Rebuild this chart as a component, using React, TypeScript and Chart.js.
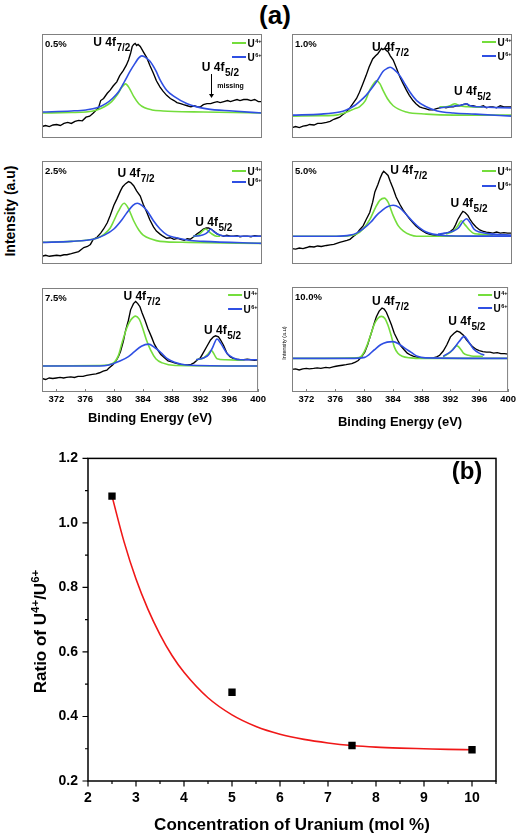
import React, { useEffect, useRef } from 'react';
import { Chart, registerables } from 'chart.js';

Chart.register(...registerables);

type Pt = [number, number];

const FONT = '"Liberation Sans", Arial, Helvetica, sans-serif';
const GREEN = '#74dd3c';
const BLUE = '#2f4fe3';
const FRAME = '#808080';

// ---------- panel (a): binding-energy axis ticks ----------
const energyTicks = [372, 376, 380, 384, 388, 392, 396, 400];

// ---------- 0.5 % ----------
const exp05: Pt[] = [
  [370, 11], [370.5, 12], [371, 11], [371.5, 12.5], [372, 13], [372.5, 12], [373, 14], [373.5, 15], [374, 14],
  [374.5, 16], [375, 17], [375.5, 16.5], [376, 20], [376.5, 21], [377, 24], [377.4, 27], [377.7, 29], [378, 36],
  [378.4, 38], [378.9, 43], [379.3, 46], [379.7, 50], [380.2, 54], [380.6, 60], [381.1, 65], [381.5, 70],
  [381.8, 75], [382.1, 82], [382.3, 88], [382.5, 90], [382.7, 91], [382.9, 89], [383.1, 90], [383.4, 88],
  [383.8, 83], [384.3, 77], [384.7, 70], [385.2, 62], [385.6, 55], [386.1, 49], [386.5, 45], [387, 41],
  [387.5, 38], [388, 36], [388.4, 34], [388.9, 33], [389.3, 32], [389.8, 31], [390.3, 30], [390.8, 31],
  [391.2, 30], [391.6, 30], [392, 32], [392.5, 33], [393, 33], [393.4, 34], [393.9, 35], [394.3, 34],
  [394.8, 35], [395.3, 36], [395.7, 35], [396.1, 36], [396.6, 37], [397, 36], [397.5, 37], [398, 37],
  [398.5, 36], [399, 37], [399.5, 35], [400, 35],
];
const u4_05_72: Pt[] = [
  [370, 24], [374, 24.5], [376, 25], [377.5, 27], [378.5, 30], [379.5, 35], [380.3, 42], [380.9, 49], [381.4, 52],
  [381.9, 48], [382.5, 40], [383.2, 33], [384, 29], [385, 27], [386.5, 26], [388, 25.5], [392, 25], [400, 24],
];
const u4_05_52: Pt[] = [];
const u6_05_72: Pt[] = [
  [370, 25], [374, 26], [376, 27], [377.5, 29], [378.7, 33], [379.6, 38], [380.5, 45], [381.3, 55], [382, 64],
  [382.7, 72], [383.2, 77], [383.6, 79], [384, 78], [384.7, 74], [385.5, 65], [386.1, 56], [387, 46], [388, 40],
  [389.8, 33], [392.5, 28], [396, 26], [400, 24],
];
const u6_05_52: Pt[] = [];

// ---------- 1.0 % ----------
const exp10: Pt[] = [
  [370, 10], [370.5, 11], [371, 10], [371.5, 11.5], [372, 12], [372.4, 13], [373, 12.5], [373.5, 14], [374, 14],
  [374.7, 15], [375.2, 16], [375.7, 18], [376.1, 19], [376.5, 20], [377, 23], [377.4, 25], [377.9, 29],
  [378.3, 33], [378.8, 38], [379.2, 44], [379.6, 51], [380.1, 60], [380.5, 68], [381, 76], [381.4, 79],
  [381.7, 81], [382, 84], [382.2, 86], [382.4, 85], [382.6, 86], [382.9, 84], [383.1, 83], [383.4, 79],
  [383.8, 75], [384.2, 68], [384.7, 59], [385.1, 53], [385.6, 46], [386, 41], [386.5, 36], [386.9, 33],
  [387.4, 30], [387.8, 29], [388.3, 28], [388.7, 27], [389.2, 27], [389.6, 28], [390.1, 29], [390.5, 30],
  [391, 29], [391.5, 30], [392, 30], [392.4, 31], [392.9, 31], [393.3, 32], [393.8, 33], [394.2, 31],
  [394.7, 31], [395.2, 30], [395.6, 30], [396.1, 31], [396.5, 29], [397, 30], [397.4, 30], [397.9, 29],
  [398.4, 31], [398.9, 30], [399.4, 30], [400, 30],
];
const u4_10_72: Pt[] = [
  [370, 21], [374, 21.5], [376, 22], [377.5, 25], [378.5, 28], [379.2, 30], [380, 36], [380.6, 46], [381.1, 52],
  [381.5, 55], [382, 52], [382.4, 46], [383, 38], [383.8, 31], [385.6, 25], [388.3, 23], [392, 22], [400, 22],
];
const u4_10_52: Pt[] = [
  [390.1, 30], [391, 30], [391.7, 31.5], [392.2, 33], [392.8, 31], [394, 30], [396, 29.5],
];
const u6_10_72: Pt[] = [
  [370, 22], [374, 23], [376.5, 25], [377.4, 27], [378.5, 31], [379.2, 35], [380.1, 41], [381, 49], [381.7, 56],
  [382.4, 64], [383, 67], [383.4, 68], [383.9, 66], [384.7, 60], [385.3, 53], [386.1, 44], [387, 36],
  [388.3, 30], [389.8, 26], [392, 24], [395, 23], [400, 21],
];
const u6_10_52: Pt[] = [
  [390.1, 29], [391.5, 30], [392.5, 31], [393.3, 32], [393.8, 33], [394.3, 31], [395.5, 30], [400, 29],
];

// ---------- 2.5 % ----------
const exp25: Pt[] = [
  [370, 7.5], [370.5, 8.5], [371, 7.5], [371.5, 8], [372, 8.5], [372.5, 8], [373, 9], [373.4, 9], [374, 10],
  [374.5, 11], [375, 12], [375.7, 16], [376.2, 17], [376.6, 19], [377, 24], [377.5, 26], [378, 30], [378.4, 34],
  [378.9, 40], [379.3, 47], [379.8, 57], [380.2, 63], [380.7, 71], [381, 75], [381.4, 78], [381.8, 80],
  [382.1, 79], [382.5, 76], [382.9, 71], [383.4, 66], [383.8, 58], [384.3, 50], [384.7, 43], [385.2, 36],
  [385.6, 32], [386.1, 29], [386.5, 27], [387, 25], [387.5, 25.5], [388, 24], [388.5, 25], [388.9, 24],
  [389.4, 23], [389.8, 24.5], [390.2, 24], [390.6, 26], [391.1, 29], [391.5, 31], [392, 34], [392.4, 35],
  [392.7, 35], [393, 34], [393.4, 32], [393.9, 29], [394.3, 28], [394.8, 27], [395.2, 28], [395.7, 27],
  [396.1, 27], [396.6, 27.5], [397, 26.5], [397.5, 27], [398, 27], [398.5, 26.5], [399, 27.5], [399.5, 27],
  [400, 27],
];
const u4_25_72: Pt[] = [
  [370, 21], [374, 22], [376, 23], [377.5, 25], [378.5, 29], [379.3, 35], [379.8, 42], [380.4, 51], [381.2, 59],
  [381.7, 55], [382.5, 42], [383.2, 33], [383.8, 28], [385, 24], [386.1, 22], [390, 21], [400, 20],
];
const u4_25_52: Pt[] = [
  [390.6, 26.5], [391.4, 28.5], [392.3, 34], [393, 30], [393.8, 27], [394.3, 27],
];
const u6_25_72: Pt[] = [
  [370, 21], [374, 22], [377, 24], [378.5, 28], [379.8, 34], [380.9, 43], [381.6, 50], [382.4, 57], [383, 59],
  [383.6, 57], [384.3, 52], [385.2, 42], [386.1, 34], [387.1, 28], [388.3, 25.5], [390, 23], [392, 22], [400, 20],
];
const u6_25_52: Pt[] = [
  [390.6, 27], [391.5, 27.5], [392.2, 29], [392.6, 31], [393, 34], [393.5, 31], [394.3, 28], [395.5, 27], [400, 27],
];

// ---------- 5.0 % ----------
const exp50: Pt[] = [
  [370, 15], [370.5, 14.5], [371, 15.5], [371.5, 15], [372, 16], [372.4, 17], [373, 16.5], [373.5, 17.5],
  [374, 17], [374.7, 18], [375.2, 18.5], [375.7, 19], [376.1, 20], [376.5, 21], [377, 22], [377.5, 23],
  [377.9, 24], [378.4, 27], [378.8, 29], [379.2, 33], [379.7, 37], [380.1, 43], [380.6, 50], [381, 60],
  [381.3, 70], [381.7, 77], [382, 83], [382.3, 88], [382.5, 90], [382.8, 88], [383.1, 86], [383.4, 80],
  [383.8, 73], [384.2, 65], [384.7, 58], [385.1, 53], [385.6, 48], [386, 44], [386.5, 40], [386.9, 37],
  [387.4, 34], [387.8, 32], [388.3, 30], [388.7, 29], [389.2, 28], [389.6, 27.5], [389.9, 27], [390.3, 29],
  [390.6, 29.5], [391, 30], [391.5, 31], [392, 34], [392.3, 38], [392.6, 43], [393, 48], [393.3, 51],
  [393.6, 50], [394, 47], [394.3, 43], [394.7, 39], [395.1, 36], [395.6, 33], [396, 32], [396.5, 31],
  [397, 30.5], [397.4, 30], [397.9, 31], [398.4, 30], [398.9, 30.5], [399.4, 30], [400, 30],
];
const u4_50_72: Pt[] = [
  [370, 27], [377, 27], [378.8, 29], [379.7, 34], [380.6, 43], [381.4, 55], [382, 62], [382.6, 64], [383.1, 60],
  [383.8, 47], [384.5, 37], [385.2, 32], [386.1, 28.5], [387, 27], [400, 27],
];
const u4_50_52: Pt[] = [
  [391, 29], [392, 32], [392.6, 37], [393.1, 42], [393.6, 38], [394.2, 33], [394.7, 30], [395.5, 29], [397.4, 28],
];
const u6_50_72: Pt[] = [
  [370, 27], [376, 27], [377.9, 28], [378.8, 30], [379.7, 34], [380.8, 41], [381.5, 47], [382.3, 52], [383, 55.5],
  [383.8, 57], [384.6, 55], [385.6, 48], [386.5, 41], [387.4, 35], [388.3, 31], [389.2, 29], [391, 27.5], [400, 27],
];
const u6_50_52: Pt[] = [
  [389.9, 29], [391, 30], [392, 32], [392.7, 35], [393.3, 41], [393.8, 44], [394.3, 40], [394.8, 34],
  [395.6, 31], [397.4, 29], [400, 28],
];

// ---------- 7.5 % ----------
const exp75: Pt[] = [
  [370, 13], [370.5, 12], [371, 13.5], [371.5, 13], [372, 13.5], [372.5, 14], [373, 13.5], [373.4, 14],
  [374, 14.5], [374.5, 14], [375, 15], [375.7, 15], [376.2, 16], [376.6, 16.5], [377, 17], [377.5, 17.5],
  [378, 18.5], [378.5, 20], [379, 21], [379.3, 23], [379.8, 26], [380.2, 29], [380.6, 34], [380.9, 39],
  [381.3, 49], [381.6, 59], [382, 69], [382.3, 79], [382.7, 85], [383, 87], [383.3, 85], [383.6, 82],
  [383.9, 76], [384.3, 69], [384.7, 61], [385.2, 53], [385.6, 46], [386.1, 40], [386.5, 36], [387, 33],
  [387.5, 30], [388, 29], [388.4, 28], [388.9, 27], [389.3, 26.5], [389.8, 26], [390.2, 26], [390.7, 26.5],
  [391.1, 28], [391.6, 31], [392, 33], [392.5, 39], [392.9, 44], [393.4, 50], [393.8, 53], [394.1, 54],
  [394.5, 53], [394.8, 50], [395.2, 45], [395.7, 37], [396.1, 34], [396.6, 32], [397, 31.5], [397.5, 31],
  [398, 31], [398.5, 31.5], [399, 31], [399.5, 30.5], [400, 31],
];
const u4_75_72: Pt[] = [
  [370, 25], [378, 25.5], [379.8, 27.5], [380.6, 35], [381.1, 47], [381.8, 62], [382.3, 69], [383, 73],
  [383.5, 70], [383.9, 63], [384.5, 50], [385.1, 40], [385.8, 32], [386.7, 28], [388.5, 25.5], [400, 25],
];
const u4_75_52: Pt[] = [
  [391.4, 31], [392.5, 33], [393, 36], [393.5, 40], [394, 35], [394.3, 32], [395.5, 31], [398, 30.5],
];
const u6_75_72: Pt[] = [
  [370, 25], [378, 25], [379.3, 26], [380.9, 30], [382, 34], [382.7, 38], [383.8, 44], [384.8, 46], [385.6, 43],
  [386.5, 38], [387.4, 32], [388.4, 28.5], [390, 26], [400, 25],
];
const u6_75_52: Pt[] = [
  [391.4, 31], [392.5, 33], [393.1, 35.5], [393.7, 43], [394.3, 51], [394.8, 47], [395.7, 37], [396.5, 33],
  [397.5, 31], [400, 31],
];

// ---------- 10.0 % ----------
const exp100: Pt[] = [
  [370, 21.5], [370.5, 22], [371, 21], [371.5, 22], [372, 22.5], [372.4, 22], [373, 22.5], [373.5, 23],
  [374, 22.5], [374.7, 23.5], [375.2, 23], [375.7, 24], [376.1, 24.5], [376.5, 25], [377, 25.5], [377.5, 26],
  [377.9, 26.5], [378.3, 27], [378.8, 28.5], [379.2, 30], [379.6, 33], [380.1, 38], [380.5, 45], [381, 56],
  [381.4, 65], [381.7, 71.5], [382.1, 77], [382.5, 80], [382.8, 79], [383.1, 76], [383.4, 71], [383.8, 64],
  [384.2, 56], [384.7, 49], [385.1, 44], [385.6, 40], [386, 37], [386.5, 35], [386.9, 34], [387.4, 33],
  [387.8, 32.5], [388.3, 32], [388.7, 32], [389.2, 32], [389.6, 32.5], [390.1, 33.5], [390.5, 35], [391, 39],
  [391.5, 45], [392, 52.5], [392.5, 56], [392.9, 58], [393.3, 57], [393.8, 54], [394.2, 50], [394.7, 46],
  [395.1, 43], [395.6, 40.5], [396, 39.5], [396.5, 38.5], [397, 38], [397.5, 38], [398, 37], [398.5, 37.5],
  [399, 36.5], [399.5, 36.5], [400, 36],
];
const u4_100_72: Pt[] = [
  [370, 32], [379, 32.5], [379.6, 34], [380, 38], [380.5, 46], [381, 56], [381.4, 64], [381.9, 70], [382.4, 72],
  [382.9, 70], [383.3, 64], [383.8, 53], [384.2, 43], [384.7, 37], [385.3, 34], [386.5, 32.5], [388, 32], [400, 32],
];
const u4_100_52: Pt[] = [
  [391, 33.5], [392, 38], [392.9, 44], [393.5, 40], [393.8, 37], [394.5, 35], [395.2, 34], [396.5, 34],
];
const u6_100_72: Pt[] = [
  [370, 32], [378, 32], [380.1, 33], [381.4, 40], [382.3, 45], [383.2, 47.5], [384, 48], [384.8, 46],
  [385.6, 42], [386.5, 38], [387.4, 34], [388.5, 32.5], [400, 32],
];
const u6_100_52: Pt[] = [
  [391, 34], [392.3, 40], [393.2, 48], [393.9, 53], [394.6, 47], [395.2, 41], [396, 37], [396.7, 35],
];

// ---------- panel (b) ----------
const concentration = [2.5, 5, 7.5, 10];
const ratio = [1.083, 0.475, 0.31, 0.297];
const fitConc = [2.5, 2.75, 3, 3.25, 3.5, 3.75, 4, 4.5, 5, 5.5, 6, 6.5, 7, 7.5, 8, 8.5, 9, 9.5, 10];
const fitRatio = [1.083, 0.942, 0.826, 0.732, 0.654, 0.589, 0.537, 0.458, 0.405, 0.369, 0.345, 0.329, 0.318,
  0.31, 0.305, 0.302, 0.3, 0.298, 0.297];
const concMajor = [2, 3, 4, 5, 6, 7, 8, 9, 10];
const concMinor = [2.5, 3.5, 4.5, 5.5, 6.5, 7.5, 8.5, 9.5, 10.5];
const ratioMajor = [0.2, 0.4, 0.6, 0.8, 1.0, 1.2];
const ratioMinor = [0.3, 0.5, 0.7, 0.9, 1.1];

interface PanelCfg {
  id: string;
  label: string;
  left: number;
  top: number;
  w: number;
  h: number;
  bottomRow: boolean;
  titlePad: number;
  exp: Pt[];
  g7: Pt[];
  g5: Pt[];
  b7: Pt[];
  b5: Pt[];
  p7: Pt;
  p5: Pt;
  legendY: [number, number];
  missing?: boolean;
  smallTitle?: boolean;
}

const PANELS: PanelCfg[] = [
  { id: 'p05', label: '0.5%', left: 42, top: 34, w: 220, h: 104, bottomRow: false, titlePad: 0,
    exp: exp05, g7: u4_05_72, g5: u4_05_52, b7: u6_05_72, b5: u6_05_52,
    p7: [377, 88], p5: [391.8, 64], legendY: [9, 23], missing: true },
  { id: 'p10', label: '1.0%', left: 292, top: 34, w: 220, h: 104, bottomRow: false, titlePad: 0,
    exp: exp10, g7: u4_10_72, g5: u4_10_52, b7: u6_10_72, b5: u6_10_52,
    p7: [380.9, 84], p5: [392.1, 41], legendY: [8, 22] },
  { id: 'p25', label: '2.5%', left: 42, top: 161, w: 220, h: 103, bottomRow: false, titlePad: 0,
    exp: exp25, g7: u4_25_72, g5: u4_25_52, b7: u6_25_72, b5: u6_25_52,
    p7: [380.3, 84.5], p5: [390.9, 37], legendY: [10, 21] },
  { id: 'p50', label: '5.0%', left: 292, top: 161, w: 220, h: 103, bottomRow: false, titlePad: 0,
    exp: exp50, g7: u4_50_72, g5: u4_50_52, b7: u6_50_72, b5: u6_50_52,
    p7: [383.4, 87], p5: [391.6, 55.6], legendY: [10, 25] },
  { id: 'p75', label: '7.5%', left: 42, top: 288, w: 220, h: 104, bottomRow: true, titlePad: 10,
    exp: exp75, g7: u4_75_72, g5: u4_75_52, b7: u6_75_72, b5: u6_75_52,
    p7: [381.3, 88.5], p5: [392.5, 55.5], legendY: [7, 21] },
  { id: 'p100', label: '10.0%', left: 292, top: 287, w: 220, h: 105, bottomRow: true, titlePad: 6,
    exp: exp100, g7: u4_100_72, g5: u4_100_52, b7: u6_100_72, b5: u6_100_52,
    p7: [381.1, 83], p5: [391.7, 64], legendY: [8, 21], smallTitle: true },
];

function drawSub(ctx: CanvasRenderingContext2D, x: number, y: number, main: string, sub: string) {
  ctx.textAlign = 'left';
  ctx.textBaseline = 'alphabetic';
  ctx.font = `bold 12px ${FONT}`;
  ctx.fillText(main, x, y);
  const w = ctx.measureText(main).width;
  ctx.font = `bold 10px ${FONT}`;
  ctx.fillText(sub, x + w + 0.5, y + 5);
}

function drawSup(ctx: CanvasRenderingContext2D, x: number, y: number, main: string, sup: string,
  size: number, supSize: number, rise: number) {
  ctx.textAlign = 'left';
  ctx.textBaseline = 'alphabetic';
  ctx.font = `bold ${size}px ${FONT}`;
  ctx.fillText(main, x, y);
  const w = ctx.measureText(main).width;
  ctx.font = `bold ${supSize}px ${FONT}`;
  ctx.fillText(sup, x + w + 0.5, y - rise);
  return w + 0.5 + ctx.measureText(sup).width;
}

function panelDeco(cfg: PanelCfg) {
  return {
    id: 'deco_' + cfg.id,
    afterDraw(chart: any) {
      const { ctx, chartArea: a, scales } = chart;
      const xs = scales.x;
      const ys = scales.y;
      ctx.save();
      ctx.strokeStyle = FRAME;
      ctx.lineWidth = 1;
      ctx.strokeRect(a.left + 0.5, a.top + 0.5, a.right - a.left - 1, a.bottom - a.top - 1);
      if (cfg.bottomRow) {
        ctx.beginPath();
        for (const t of xs.ticks) {
          const px = Math.round(xs.getPixelForValue(t.value)) + 0.5;
          ctx.moveTo(px, a.bottom);
          ctx.lineTo(px, a.bottom - 3);
        }
        ctx.stroke();
      }
      ctx.fillStyle = '#000';
      ctx.font = `bold 9.5px ${FONT}`;
      ctx.textAlign = 'left';
      ctx.textBaseline = 'middle';
      ctx.fillText(cfg.label, a.left + 3, a.top + 10);

      drawSub(ctx, xs.getPixelForValue(cfg.p7[0]), ys.getPixelForValue(cfg.p7[1]), 'U 4f', '7/2');
      drawSub(ctx, xs.getPixelForValue(cfg.p5[0]), ys.getPixelForValue(cfg.p5[1]), 'U 4f', '5/2');

      if (cfg.missing) {
        ctx.font = `bold 7px ${FONT}`;
        ctx.textBaseline = 'alphabetic';
        ctx.fillText('missing', xs.getPixelForValue(393.9), ys.getPixelForValue(48));
        const ax = Math.round(xs.getPixelForValue(393)) + 0.5;
        const y0 = ys.getPixelForValue(61.5);
        const y1 = ys.getPixelForValue(38.5);
        ctx.strokeStyle = '#000';
        ctx.lineWidth = 1;
        ctx.beginPath();
        ctx.moveTo(ax, y0);
        ctx.lineTo(ax, y1 - 3);
        ctx.stroke();
        ctx.beginPath();
        ctx.moveTo(ax - 2.5, y1 - 4);
        ctx.lineTo(ax + 2.5, y1 - 4);
        ctx.lineTo(ax, y1);
        ctx.closePath();
        ctx.fill();
      }

      // legend
      const cols = [GREEN, BLUE];
      const sups = ['4+', '6+'];
      cfg.legendY.forEach((dy, i) => {
        const y = a.top + dy;
        ctx.strokeStyle = cols[i];
        ctx.lineWidth = 2;
        ctx.beginPath();
        ctx.moveTo(a.right - 30, y);
        ctx.lineTo(a.right - 16, y);
        ctx.stroke();
        ctx.fillStyle = '#000';
        drawSup(ctx, a.right - 14.5, y + 3.5, 'U', sups[i], 10, 5.5, 4);
      });

      if (cfg.smallTitle) {
        ctx.save();
        ctx.translate(a.left - 6, a.top + 56);
        ctx.rotate(-Math.PI / 2);
        ctx.font = `5.5px ${FONT}`;
        ctx.textAlign = 'center';
        ctx.textBaseline = 'alphabetic';
        ctx.fillStyle = '#000';
        ctx.fillText('Intensity (a.u)', 0, 0);
        ctx.restore();
      }
      ctx.restore();
    },
  };
}

function Panel({ cfg }: { cfg: PanelCfg }) {
  const ref = useRef<HTMLCanvasElement>(null);
  const padL = 12;
  const padR = 6;
  const padT = 4;
  const axisH = cfg.bottomRow ? 44 : 0;
  const padB = cfg.bottomRow ? 0 : 4;
  const W = cfg.w + padL + padR;
  const H = cfg.h + padT + padB + axisH;

  useEffect(() => {
    const toXY = (arr: Pt[]) => arr.map(([x, y]) => ({ x, y }));
    const fit = (data: Pt[], color: string) => ({
      data: toXY(data),
      borderColor: color,
      backgroundColor: color,
      borderWidth: 1.6,
      pointRadius: 0,
      fill: false,
      cubicInterpolationMode: 'monotone' as const,
    });
    const chart = new Chart(ref.current as HTMLCanvasElement, {
      type: 'line',
      data: {
        datasets: [
          fit(cfg.b5, BLUE),
          fit(cfg.b7, BLUE),
          fit(cfg.g5, GREEN),
          fit(cfg.g7, GREEN),
          {
            data: toXY(cfg.exp),
            borderColor: '#000',
            backgroundColor: '#000',
            borderWidth: 1.35,
            pointRadius: 0,
            tension: 0,
            fill: false,
          },
        ],
      },
      options: {
        responsive: false,
        animation: false,
        events: [],
        layout: { padding: { left: padL, right: padR, top: padT, bottom: padB } },
        plugins: { legend: { display: false }, tooltip: { enabled: false } },
        scales: {
          x: {
            type: 'linear',
            min: 370,
            max: 400,
            display: cfg.bottomRow,
            afterBuildTicks: (s: any) => {
              s.ticks = energyTicks.map((v) => ({ value: v }));
            },
            afterFit: (s: any) => {
              s.height = axisH;
            },
            grid: { display: false, drawTicks: false },
            border: { display: false },
            ticks: {
              color: '#000',
              font: { family: FONT, size: 9.5, weight: 'bold' },
              padding: 2,
              maxRotation: 0,
              autoSkip: false,
            },
            title: {
              display: cfg.bottomRow,
              text: 'Binding Energy (eV)',
              color: '#000',
              font: { family: FONT, size: 13, weight: 'bold' },
              padding: { top: 0, bottom: cfg.titlePad },
            },
          },
          y: { type: 'linear', min: 0, max: 100, display: false },
        },
      } as any,
      plugins: [panelDeco(cfg)],
    });
    return () => chart.destroy();
  }, [cfg]);

  return (
    <canvas
      ref={ref}
      width={W}
      height={H}
      style={{ position: 'absolute', left: cfg.left - padL, top: cfg.top - padT, width: W, height: H }}
    />
  );
}

const ratioDeco = {
  id: 'ratioDeco',
  afterDraw(chart: any) {
    const { ctx, chartArea: a, scales } = chart;
    const xs = scales.x;
    const ys = scales.y;
    ctx.save();
    ctx.strokeStyle = '#000';
    ctx.lineWidth = 1.5;
    ctx.strokeRect(a.left, a.top, a.right - a.left, a.bottom - a.top);
    ctx.lineWidth = 1.2;
    ctx.beginPath();
    for (const t of xs.ticks) {
      const major = concMajor.includes(t.value);
      const px = xs.getPixelForValue(t.value);
      ctx.moveTo(px, a.bottom);
      ctx.lineTo(px, a.bottom + (major ? 5.5 : 3));
    }
    for (const t of ys.ticks) {
      const major = ratioMajor.some((m) => Math.abs(m - t.value) < 1e-6);
      const py = ys.getPixelForValue(t.value);
      ctx.moveTo(a.left, py);
      ctx.lineTo(a.left - (major ? 5.5 : 3), py);
    }
    ctx.stroke();

    // (b)
    ctx.fillStyle = '#000';
    ctx.font = `bold 24px ${FONT}`;
    ctx.textAlign = 'center';
    ctx.textBaseline = 'middle';
    ctx.fillText('(b)', 467, 32);

    // y title with superscripts
    ctx.save();
    ctx.translate(45.5, 191.5);
    ctx.rotate(-Math.PI / 2);
    const parts: [string, boolean][] = [['Ratio of U', false], ['4+', true], ['/U', false], ['6+', true]];
    let total = 0;
    for (const [s, sup] of parts) {
      ctx.font = `bold ${sup ? 11.5 : 17}px ${FONT}`;
      total += ctx.measureText(s).width;
    }
    let x = -total / 2;
    ctx.textAlign = 'left';
    ctx.textBaseline = 'alphabetic';
    for (const [s, sup] of parts) {
      ctx.font = `bold ${sup ? 11.5 : 17}px ${FONT}`;
      ctx.fillText(s, x, sup ? -7 : 0);
      x += ctx.measureText(s).width;
    }
    ctx.restore();
    ctx.restore();
  },
};

function RatioChart() {
  const ref = useRef<HTMLCanvasElement>(null);
  const W = 522;
  const H = 398;
  useEffect(() => {
    const chart = new Chart(ref.current as HTMLCanvasElement, {
      type: 'scatter',
      data: {
        datasets: [
          {
            type: 'scatter',
            data: concentration.map((x, i) => ({ x, y: ratio[i] })),
            pointStyle: 'rect',
            pointRadius: 5.2,
            backgroundColor: '#000',
            borderColor: '#000',
            borderWidth: 0,
          },
          {
            type: 'line',
            data: fitConc.map((x, i) => ({ x, y: fitRatio[i] })),
            borderColor: '#f01818',
            borderWidth: 1.6,
            pointRadius: 0,
            fill: false,
            cubicInterpolationMode: 'monotone',
          },
        ],
      },
      options: {
        responsive: false,
        animation: false,
        events: [],
        layout: { padding: { left: 0, right: 26, top: 13, bottom: 0 } },
        plugins: { legend: { display: false }, tooltip: { enabled: false } },
        scales: {
          x: {
            type: 'linear',
            min: 2,
            max: 10.5,
            afterBuildTicks: (s: any) => {
              s.ticks = [...concMajor, ...concMinor].sort((p, q) => p - q).map((v) => ({ value: v }));
            },
            afterFit: (s: any) => {
              s.height = 57;
            },
            grid: { display: false, drawTicks: false },
            border: { display: false },
            ticks: {
              color: '#000',
              font: { family: FONT, size: 14, weight: 'bold' },
              padding: 9,
              maxRotation: 0,
              autoSkip: false,
              callback: (v: any) => (concMajor.includes(Number(v)) ? String(v) : ''),
            },
            title: {
              display: true,
              text: 'Concentration of Uranium (mol %)',
              color: '#000',
              font: { family: FONT, size: 17, weight: 'bold' },
              padding: { top: 0, bottom: 2 },
            },
          },
          y: {
            type: 'linear',
            min: 0.2,
            max: 1.2,
            afterBuildTicks: (s: any) => {
              s.ticks = [...ratioMajor, ...ratioMinor].sort((p, q) => p - q).map((v) => ({ value: v }));
            },
            afterFit: (s: any) => {
              s.width = 88;
            },
            grid: { display: false, drawTicks: false },
            border: { display: false },
            ticks: {
              color: '#000',
              font: { family: FONT, size: 14, weight: 'bold' },
              padding: 10,
              autoSkip: false,
              callback: (v: any) => {
                const n = Number(v);
                return ratioMajor.some((m) => Math.abs(m - n) < 1e-6) ? n.toFixed(1) : '';
              },
            },
          },
        },
      } as any,
      plugins: [ratioDeco],
    });
    return () => chart.destroy();
  }, []);
  return (
    <canvas
      ref={ref}
      width={W}
      height={H}
      style={{ position: 'absolute', left: 0, top: 440, width: W, height: H }}
    />
  );
}

export default function App() {
  return (
    <div
      style={{
        position: 'absolute',
        left: 0,
        top: 0,
        width: 522,
        height: 838,
        background: '#fff',
        fontFamily: FONT,
        overflow: 'hidden',
      }}
    >
      <div
        style={{
          position: 'absolute',
          left: 235,
          top: 0,
          width: 80,
          height: 30,
          lineHeight: '30px',
          textAlign: 'center',
          fontWeight: 'bold',
          fontSize: 26,
          color: '#000',
        }}
      >
        (a)
      </div>
      <div
        style={{
          position: 'absolute',
          left: -60,
          top: 203,
          width: 140,
          height: 16,
          lineHeight: '16px',
          textAlign: 'center',
          fontWeight: 'bold',
          fontSize: 14,
          color: '#000',
          transform: 'rotate(-90deg)',
          transformOrigin: '50% 50%',
          whiteSpace: 'nowrap',
        }}
      >
        Intensity (a.u)
      </div>
      {PANELS.map((p) => (
        <Panel key={p.id} cfg={p} />
      ))}
      <RatioChart />
    </div>
  );
}
